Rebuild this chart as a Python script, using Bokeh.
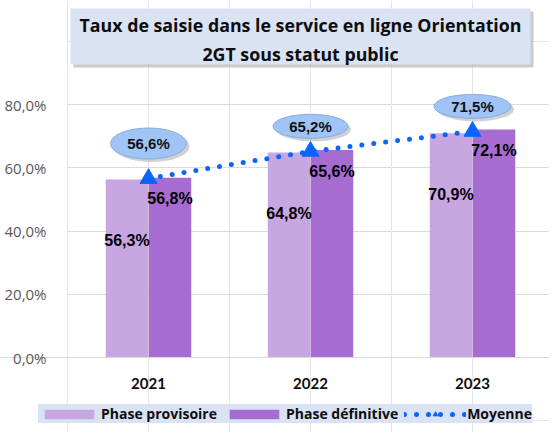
from bokeh.plotting import figure
from bokeh.models import (Range1d, FixedTicker, LinearAxis, Legend, LegendItem,
                          ColumnDataSource, Grid)
from bokeh.core.properties import value
from bokeh.transform import dodge
from bokeh.embed import file_html
from bokeh.resources import INLINE

# ---------------- data ----------------
years = ["2021", "2022", "2023"]
provisoire = [56.3, 64.8, 70.9]
definitive = [56.8, 65.6, 72.1]
moyenne = [56.6, 65.2, 71.5]
yticks = [0, 20, 40, 60, 80]
ytick_labels = ["0,0%", "20,0%", "40,0%", "60,0%", "80,0%"]
title_lines = ["Taux de saisie dans le service en ligne Orientation",
               "2GT sous statut public"]
series_names = ["Phase provisoire", "Phase définitive", "Moyenne"]


def fmt(v):
    return f"{v:.1f}".replace(".", ",") + "%"


# ---------------- layout (picture pixels) ----------------
OX, OY = 2, 1             # where the figure lands on the picture
W, H = 549, 432
PX_UNIT = 3.1625          # pixels per percentage point
CAT_W = 162               # pixels per category
CAT0_PX = 150             # picture x of first category centre
ZERO_PX = 358             # picture y of 0 %
PLOT_LEFT_PX = 68         # picture x of the plot area's left edge


def px2x(px):
    return (px - CAT0_PX) / CAT_W


def px2y(py):
    return (ZERO_PX - py) / PX_UNIT


LIGHT = "#c8a6e2"
DARK = "#a66cd1"
BLUE = "#0a64ff"
BOX = "#dae3f3"
FONT = "Open Sans"
LBL_FONT = "Liberation Sans"

p = figure(width=W, height=H, output_backend="svg", toolbar_location=None,
           x_range=Range1d(px2x(OX), px2x(OX + W)),
           y_range=Range1d(px2y(OY + H), px2y(OY)),
           x_axis_location=None, y_axis_location=None,
           min_border_left=0, min_border_right=0,
           min_border_top=0, min_border_bottom=0)
p.outline_line_color = None
p.background_fill_color = "white"
p.border_fill_color = "white"

# horizontal grid
grid = Grid(dimension=1, ticker=FixedTicker(ticks=yticks[1:]),
            grid_line_color="#d0d0d0", grid_line_dash="2 2")
p.add_layout(grid, "center")

# mask the grid left of the plot area
p.quad(left=px2x(OX), right=px2x(PLOT_LEFT_PX), bottom=px2y(OY + H), top=px2y(OY),
       fill_color="white", line_color=None)

# y axis at the plot area's left edge
yaxis = LinearAxis(fixed_location=px2x(PLOT_LEFT_PX), ticker=FixedTicker(ticks=yticks))
yaxis.major_label_overrides = {t: l for t, l in zip(yticks, ytick_labels)}
yaxis.axis_line_color = None
yaxis.major_tick_line_color = None
yaxis.minor_tick_line_color = None
yaxis.major_label_text_font = FONT
yaxis.major_label_text_font_size = "15px"
yaxis.major_label_text_color = "#595959"
yaxis.major_label_standoff = 14
p.add_layout(yaxis, "left")

# x axis at 0
xaxis = LinearAxis(fixed_location=0, ticker=FixedTicker(ticks=list(range(len(years)))))
xaxis.major_label_overrides = {i: y for i, y in enumerate(years)}
xaxis.axis_line_color = "#d9d9d9"
xaxis.major_tick_line_color = None
xaxis.minor_tick_line_color = None
xaxis.major_label_text_font = "Lato"
xaxis.major_label_text_font_style = "bold"
xaxis.major_label_text_font_size = "15px"
xaxis.major_label_text_color = "#0d0d0d"
xaxis.major_label_standoff = 14
p.add_layout(xaxis, "below")

src = ColumnDataSource(dict(
    x=list(range(len(years))),
    prov=provisoire, defi=definitive, moy=moyenne,
    prov_lbl=[fmt(v) for v in provisoire],
    defi_lbl=[fmt(v) for v in definitive],
    moy_lbl=[fmt(v) for v in moyenne],
))

BAR_OFF = 21.5 / CAT_W
BAR_W = 42.5 / CAT_W
r_prov = p.vbar(x=dodge("x", -BAR_OFF, range=p.x_range), top="prov", width=BAR_W,
                source=src, fill_color=LIGHT, line_color=None)
r_defi = p.vbar(x=dodge("x", BAR_OFF, range=p.x_range), top="defi", width=BAR_W,
                source=src, fill_color=DARK, line_color=None)

# bar labels
p.text(x=dodge("x", -BAR_OFF, range=p.x_range), y="prov", text="prov_lbl", source=src,
       y_offset=61, text_align="center", text_baseline="middle",
       text_font=value(LBL_FONT), text_font_style=value("bold"),
       text_font_size=value("16px"), text_color="#000000")
p.text(x=dodge("x", BAR_OFF, range=p.x_range), y="defi", text="defi_lbl", source=src,
       y_offset=21, text_align="center", text_baseline="middle",
       text_font=value(LBL_FONT), text_font_style=value("bold"),
       text_font_size=value("16px"), text_color="#000000")

# average line
r_line = p.line(x="x", y="moy", source=src, line_color=BLUE, line_width=5,
                line_dash="0 12", line_cap="round")
r_tri = p.scatter(x="x", y="moy", source=src, marker="triangle", size=17,
                  fill_color=BLUE, line_color=BLUE)

# average callouts
call_off_px = [35, 25, 25]
call_w = [76, 75, 77]
call_h = [31, 24, 24]
csrc = ColumnDataSource(dict(
    x=list(range(len(years))),
    y=[m + o / PX_UNIT for m, o in zip(moyenne, call_off_px)],
    w=call_w, h=call_h, lbl=[fmt(v) for v in moyenne],
))
ssrc = ColumnDataSource(dict(
    x=[i + 3 / CAT_W for i in csrc.data["x"]],
    y=[v - 3 / PX_UNIT for v in csrc.data["y"]],
    w=call_w, h=call_h,
))
p.ellipse(x="x", y="y", width="w", height="h", width_units="screen", height_units="screen",
          source=ssrc, fill_color="#9a9a9a", fill_alpha=0.45, line_color=None)
p.ellipse(x="x", y="y", width="w", height="h", width_units="screen", height_units="screen",
          source=csrc, fill_color="#9fc4f5", line_color="#86acdf", line_width=1)
p.text(x="x", y="y", text="lbl", source=csrc, text_align="center", text_baseline="middle",
       text_font=value(LBL_FONT), text_font_style=value("bold"),
       text_font_size=value("15px"), text_color="#111111")

# title box
p.quad(left=px2x(75), right=px2x(535), top=px2y(12), bottom=px2y(68),
       fill_color="#a0a0a0", fill_alpha=0.55, line_color=None)
p.quad(left=px2x(72), right=px2x(532), top=px2y(9), bottom=px2y(65),
       fill_color=BOX, line_color=None)
p.text(x=[px2x(302)] * 2, y=[px2y(25), px2y(54)], text=title_lines,
       text_align="center", text_baseline="middle", text_font=value(FONT),
       text_font_style=value("bold"), text_font_size=value("17.8px"), text_color="#0d0d0d")

legend = Legend(items=[
    LegendItem(label=series_names[0], renderers=[r_prov]),
    LegendItem(label=series_names[1], renderers=[r_defi]),
    LegendItem(label=series_names[2], renderers=[r_line, r_tri]),
], location=(40 - OX, 9), orientation="horizontal")
legend.background_fill_color = BOX
legend.background_fill_alpha = 1
legend.border_line_color = None
legend.label_text_font = FONT
legend.label_text_font_style = "bold"
legend.label_text_font_size = "14px"
legend.label_text_color = "#0d0d0d"
legend.glyph_width = 62
legend.glyph_height = 12
legend.label_standoff = 1
legend.spacing = 6
legend.padding = 10
legend.margin = 0
p.add_layout(legend, "center")

open("out.html", "w").write(file_html(p, INLINE))
